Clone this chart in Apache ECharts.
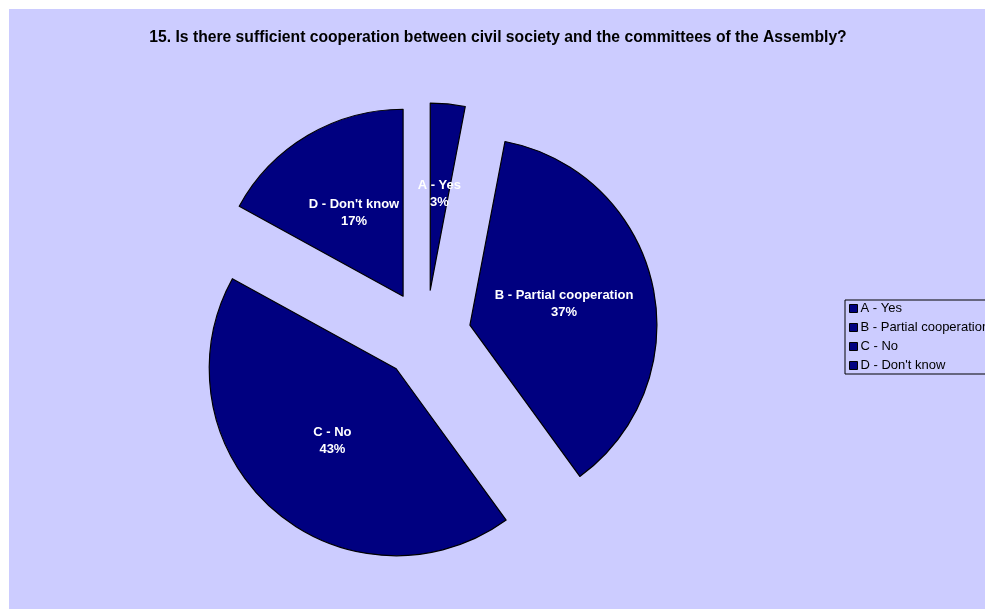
<!DOCTYPE html>
<html>
<head>
<meta charset="utf-8">
<script src="https://cdn.jsdelivr.net/npm/echarts@6/dist/echarts.min.js"></script>
<style>
  html, body { margin: 0; padding: 0; background: #ffffff; }
  #chart { width: 985px; height: 609px; }
</style>
</head>
<body>
<div id="chart"></div>
<script>
// Survey answers (percent of respondents)
const categories = ['A - Yes', 'B - Partial cooperation', 'C - No', "D - Don't know"];
const shares = [3, 37, 43, 17];
const titleText = '15. Is there sufficient cooperation between civil society and the committees of the Assembly?';

const FONT = '"Liberation Sans", Arial, sans-serif';
const NAVY = '#000080';

const chart = echarts.init(document.getElementById('chart'), null, { renderer: 'canvas' });

chart.setOption({
  backgroundColor: '#ffffff',
  animation: false,
  graphic: [{
    type: 'rect',
    z: -10,
    shape: { x: 9, y: 9, width: 990, height: 600 },
    style: { fill: '#ccccff' },
    silent: true
  }],
  title: {
    text: titleText,
    left: 493,
    textAlign: 'center',
    top: 25,
    textStyle: { fontFamily: FONT, fontSize: 15.7, fontWeight: 'bold', color: '#000' }
  },
  legend: {
    orient: 'vertical',
    left: 845,
    top: 300,
    data: categories,
    icon: 'rect',
    itemWidth: 8,
    itemHeight: 8,
    itemGap: 6,
    padding: [2, 40, 2, 4],
    borderColor: '#000',
    borderWidth: 1,
    selectedMode: false,
    textStyle: { fontFamily: FONT, fontSize: 13, color: '#000', padding: [0, 0, 0, -2] },
    itemStyle: { borderColor: '#000', borderWidth: 1 }
  },
  series: [{
    type: 'pie',
    center: [426, 335],
    radius: 187,
    startAngle: 90,
    clockwise: true,
    selectedMode: 'multiple',
    selectedOffset: 45,
    avoidLabelOverlap: false,
    labelLayout: { hideOverlap: false },
    emphasis: { disabled: true },
    itemStyle: { color: NAVY, borderColor: '#000', borderWidth: 1.2 },
    label: {
      show: true,
      position: 'inside',
      formatter: p => p.name + '\n' + p.value + '%',
      color: '#fff',
      fontFamily: FONT,
      fontSize: 13,
      fontWeight: 'bold',
      lineHeight: 17,
      align: 'center'
    },
    labelLine: { show: false },
    data: categories.map((name, i) => ({ name, value: shares[i], selected: true }))
  }]
});
</script>
</body>
</html>
